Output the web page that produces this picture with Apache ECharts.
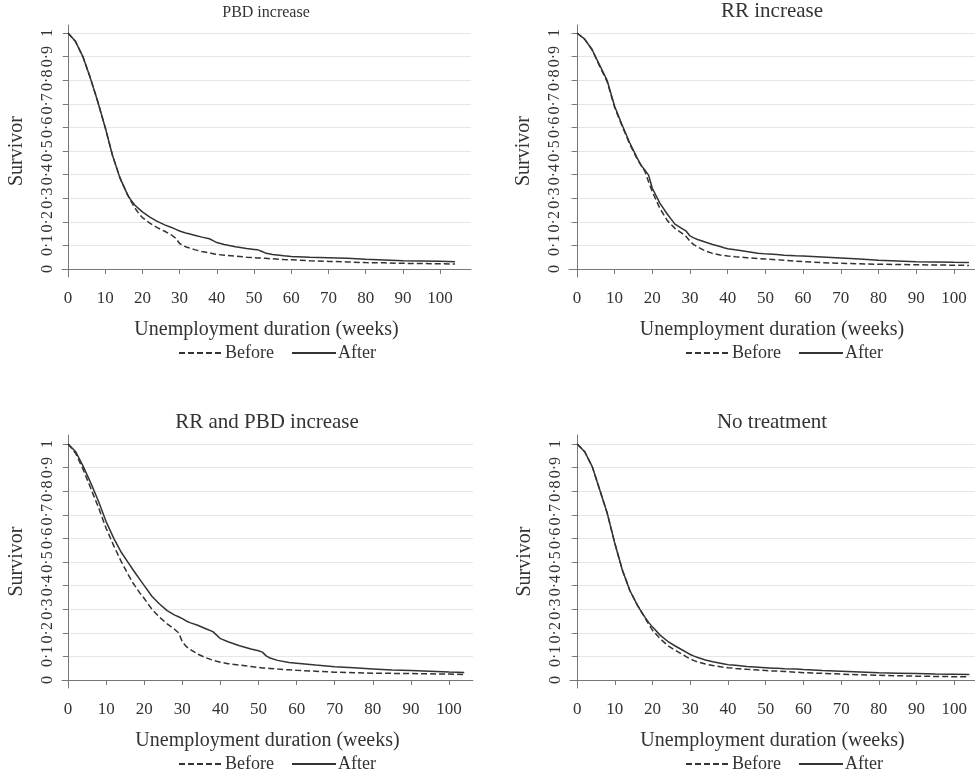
<!DOCTYPE html>
<html>
<head>
<meta charset="utf-8">
<script src="https://cdn.jsdelivr.net/npm/echarts@6/dist/echarts.min.js"></script>
<style>
  html, body { margin: 0; padding: 0; background: #fff; }
  #chart { width: 975px; height: 773px; }
</style>
</head>
<body>
<div id="chart"></div>
<script>
// weeks at which the survivor curves were read
const weeks = [0, 2, 4, 6, 8, 10, 12, 14, 16, 17, 18, 19, 20, 22, 24, 26, 28, 29, 30, 31, 32, 34, 36, 38, 39, 40, 42, 45, 48, 50, 51, 52, 53, 55, 58, 60, 65, 70, 75, 80, 85, 90, 95, 100, 104];

const pbdBefore = [1, 0.965, 0.90, 0.81, 0.71, 0.60, 0.48, 0.385, 0.315, 0.285, 0.258, 0.236, 0.218, 0.194, 0.175, 0.16, 0.142, 0.13, 0.108, 0.098, 0.092, 0.082, 0.074, 0.068, 0.065, 0.062, 0.058, 0.054, 0.05, 0.048, 0.047, 0.046, 0.045, 0.043, 0.04, 0.039, 0.035, 0.032, 0.03, 0.027, 0.026, 0.024, 0.023, 0.022, 0.021];
const pbdAfter = [1, 0.965, 0.90, 0.81, 0.71, 0.60, 0.48, 0.385, 0.315, 0.29, 0.27, 0.256, 0.242, 0.22, 0.202, 0.187, 0.175, 0.168, 0.161, 0.156, 0.151, 0.143, 0.135, 0.128, 0.12, 0.112, 0.104, 0.094, 0.087, 0.083, 0.081, 0.075, 0.068, 0.061, 0.056, 0.053, 0.05, 0.048, 0.045, 0.041, 0.038, 0.035, 0.034, 0.033, 0.031];

const rrBefore = [1, 0.975, 0.93, 0.86, 0.795, 0.685, 0.605, 0.53, 0.465, 0.44, 0.415, 0.37, 0.328, 0.257, 0.205, 0.172, 0.15, 0.137, 0.117, 0.103, 0.093, 0.077, 0.066, 0.059, 0.057, 0.055, 0.052, 0.048, 0.044, 0.042, 0.041, 0.04, 0.039, 0.037, 0.033, 0.031, 0.027, 0.024, 0.022, 0.02, 0.019, 0.018, 0.017, 0.016, 0.015];
const rrAfter = [1, 0.975, 0.93, 0.865, 0.80, 0.69, 0.61, 0.535, 0.47, 0.44, 0.42, 0.398, 0.342, 0.279, 0.232, 0.19, 0.17, 0.16, 0.14, 0.132, 0.125, 0.114, 0.104, 0.095, 0.09, 0.086, 0.081, 0.074, 0.067, 0.064, 0.063, 0.062, 0.061, 0.058, 0.056, 0.055, 0.051, 0.047, 0.042, 0.037, 0.034, 0.031, 0.03, 0.028, 0.027];

const bothBefore = [1, 0.96, 0.89, 0.81, 0.73, 0.642, 0.568, 0.50, 0.44, 0.412, 0.388, 0.365, 0.345, 0.30, 0.266, 0.238, 0.214, 0.2, 0.162, 0.142, 0.13, 0.11, 0.095, 0.084, 0.079, 0.075, 0.069, 0.063, 0.057, 0.053, 0.051, 0.05, 0.049, 0.046, 0.043, 0.041, 0.037, 0.033, 0.031, 0.029, 0.028, 0.027, 0.026, 0.025, 0.023];
const bothAfter = [1, 0.967, 0.904, 0.833, 0.756, 0.67, 0.6, 0.54, 0.492, 0.468, 0.445, 0.422, 0.40, 0.355, 0.322, 0.294, 0.275, 0.268, 0.26, 0.25, 0.243, 0.232, 0.218, 0.205, 0.19, 0.175, 0.162, 0.145, 0.131, 0.124, 0.118, 0.102, 0.093, 0.083, 0.074, 0.071, 0.063, 0.056, 0.052, 0.047, 0.042, 0.04, 0.037, 0.034, 0.032];

const noneBefore = [1, 0.967, 0.904, 0.805, 0.705, 0.578, 0.465, 0.378, 0.316, 0.29, 0.263, 0.235, 0.21, 0.175, 0.146, 0.126, 0.108, 0.098, 0.089, 0.082, 0.076, 0.068, 0.061, 0.056, 0.054, 0.052, 0.049, 0.045, 0.042, 0.04, 0.039, 0.038, 0.038, 0.036, 0.033, 0.031, 0.028, 0.025, 0.022, 0.02, 0.018, 0.016, 0.015, 0.014, 0.014];
const noneAfter = [1, 0.967, 0.904, 0.805, 0.705, 0.578, 0.465, 0.378, 0.316, 0.29, 0.265, 0.243, 0.224, 0.19, 0.164, 0.144, 0.126, 0.117, 0.108, 0.101, 0.095, 0.085, 0.077, 0.071, 0.068, 0.065, 0.062, 0.057, 0.054, 0.052, 0.051, 0.05, 0.05, 0.048, 0.046, 0.044, 0.04, 0.037, 0.034, 0.031, 0.029, 0.027, 0.025, 0.024, 0.023];

const titles = ['PBD increase', 'RR increase', 'RR and PBD increase', 'No treatment'];
const xTicks = [0, 10, 20, 30, 40, 50, 60, 70, 80, 90, 100];
const yTicks = [0, 0.1, 0.2, 0.3, 0.4, 0.5, 0.6, 0.7, 0.8, 0.9, 1];

const FONT = '"Liberation Serif", "DejaVu Serif", serif';
const INK = '#333';

// panel layout
const panels = [
  { left: 62, top: 25, width: 409, height: 252, xMin: -1.6, xMax: 108.3, yMin: -0.034, yMax: 1.034, cx: 266, titleTop: 5, titleSize: 16, legendLeft: 178, legendTop: 344, before: pbdBefore, after: pbdAfter },
  { left: 569, top: 25, width: 406, height: 252, xMin: -2.1, xMax: 105.6, yMin: -0.034, yMax: 1.034, cx: 772, titleTop: 1, titleSize: 21, legendLeft: 685, legendTop: 344, before: rrBefore, after: rrAfter },
  { left: 62, top: 435, width: 411, height: 253, xMin: -1.6, xMax: 106.3, yMin: -0.034, yMax: 1.038, cx: 267, titleTop: 412, titleSize: 21, legendLeft: 178, legendTop: 755, before: bothBefore, after: bothAfter },
  { left: 570, top: 435, width: 405, height: 253, xMin: -1.9, xMax: 105.5, yMin: -0.034, yMax: 1.038, cx: 772, titleTop: 412, titleSize: 21, legendLeft: 685, legendTop: 755, before: noneBefore, after: noneAfter }
];

const fmtY = v => {
  if (v === 0) return '0';
  if (Math.abs(v - 1) < 1e-9) return '1';
  return v.toFixed(1).replace('.', '·');
};

const chart = echarts.init(document.getElementById('chart'));

const series = [];
panels.forEach((p, i) => {
  series.push({
    name: 'Before', type: 'line', xAxisIndex: i, yAxisIndex: i,
    data: weeks.map((w, k) => [w, p.before[k]]),
    symbol: 'none', showSymbol: false,
    lineStyle: { color: INK, width: 1.5, type: [6, 3] },
    itemStyle: { color: INK },
    z: 3
  });
  series.push({
    name: 'After', type: 'line', xAxisIndex: i, yAxisIndex: i,
    data: weeks.map((w, k) => [w, p.after[k]]),
    symbol: 'none', showSymbol: false,
    lineStyle: { color: INK, width: 1.5 },
    itemStyle: { color: INK },
    z: 4
  });
});

chart.setOption({
  animation: false,
  backgroundColor: '#fff',
  title: panels.map((p, i) => ({
    text: titles[i],
    left: p.cx,
    top: p.titleTop,
    textAlign: 'center',
    padding: 0,
    textStyle: { fontFamily: FONT, fontWeight: 'normal', fontSize: p.titleSize, color: INK }
  })),
  legend: panels.map(p => ({
    data: ['Before', 'After'],
    left: p.legendLeft,
    top: p.legendTop,
    padding: 0,
    itemWidth: 44,
    itemHeight: 10,
    itemGap: 17,
    selectedMode: false,
    itemStyle: { opacity: 0 },
    textStyle: { fontFamily: FONT, fontSize: 18, color: INK, padding: [0, 0, 0, -3] }
  })),
  grid: panels.map(p => ({ left: p.left, top: p.top, width: p.width, height: p.height, containLabel: false })),
  xAxis: panels.map((p, i) => ({
    type: 'value', gridIndex: i,
    min: p.xMin, max: p.xMax,
    name: 'Unemployment duration (weeks)',
    nameLocation: 'middle', nameGap: 43,
    nameTextStyle: { fontFamily: FONT, fontSize: 20, color: INK },
    axisLine: { show: true, lineStyle: { color: '#777', width: 1 } },
    axisTick: { show: true, length: 5, lineStyle: { color: '#777' }, customValues: xTicks },
    axisLabel: { customValues: xTicks, fontFamily: FONT, fontSize: 17, color: INK, margin: 13 },
    splitLine: { show: false }
  })),
  yAxis: panels.map((p, i) => ({
    type: 'value', gridIndex: i,
    min: p.yMin, max: p.yMax,
    name: 'Survivor',
    nameLocation: 'middle', nameGap: 35,
    nameTextStyle: { fontFamily: FONT, fontSize: 20, color: INK },
    axisLine: { show: true, lineStyle: { color: '#777', width: 1 } },
    axisTick: { show: true, length: 5, lineStyle: { color: '#777' }, customValues: yTicks },
    axisLabel: { customValues: yTicks, rotate: 90, formatter: fmtY, fontFamily: FONT, fontSize: 16, color: INK, margin: 6 },
    splitLine: { show: true, lineStyle: { color: '#e6e6e6', width: 1 } }
  })),
  series: series
});
</script>
</body>
</html>
